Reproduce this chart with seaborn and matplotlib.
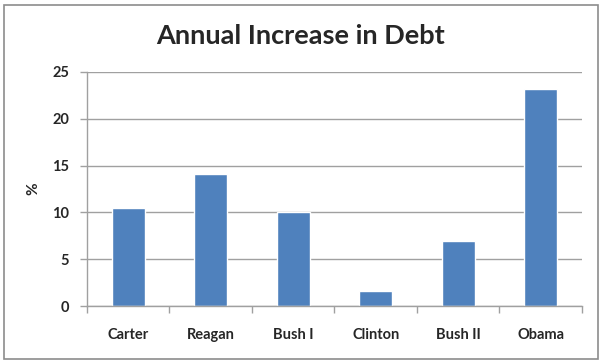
import numpy as np
import pandas as pd
import matplotlib
matplotlib.use("Agg")
import matplotlib.pyplot as plt
from matplotlib.patches import Rectangle
import seaborn as sns

presidents = ["Carter", "Reagan", "Bush I", "Clinton", "Bush II", "Obama"]
increase_pct = [10.5, 14.1, 10.0, 1.6, 6.9, 23.2]

df = pd.DataFrame({"President": presidents, "Increase": increase_pct})

sns.set_style("white")
plt.rcParams["font.family"] = ["Lato", "DejaVu Sans"]

fig = plt.figure(figsize=(6.02, 3.63), dpi=100)
ax = fig.add_axes([0.1445, 0.157, 0.822, 0.645])

sns.barplot(data=df, x="President", y="Increase", color="#4F81BD",
            saturation=1, width=0.4, ax=ax)

ax.set_ylim(0, 25)
ax.set_yticks(np.arange(0, 26, 5))
ax.set_xlim(-0.5, len(presidents) - 0.5)
ax.yaxis.grid(True, color="#A0A0A0", linewidth=1)
ax.set_axisbelow(True)

for s in ["top", "right"]:
    ax.spines[s].set_visible(False)
for s in ["left", "bottom"]:
    ax.spines[s].set_color("#A0A0A0")
    ax.spines[s].set_linewidth(1)

# tick marks between categories, labels centred
ax.set_xticks(np.arange(-0.5, len(presidents), 1), minor=True)
ax.tick_params(axis="x", which="major", bottom=True, length=0, pad=16, labelsize=10.5)
ax.tick_params(axis="x", which="minor", bottom=True, length=5, color="#A0A0A0", width=1)
ax.tick_params(axis="y", left=True, length=5, color="#A0A0A0", width=1, labelsize=10.5, pad=8)
for lbl in ax.get_xticklabels() + ax.get_yticklabels():
    lbl.set_fontweight("bold")

ax.set_xlabel("")
ax.set_ylabel("%", fontsize=11, fontweight="bold", labelpad=8)
fig.text(0.5, 0.9, "Annual Increase in Debt", ha="center", va="center",
         fontsize=19.5, fontweight="bold")

fig.add_artist(Rectangle((0.006, 0.012), 0.987, 0.975, transform=fig.transFigure,
                         fill=False, edgecolor="#8C8C8C", linewidth=1.2))

fig.savefig("out.png", dpi=100)
